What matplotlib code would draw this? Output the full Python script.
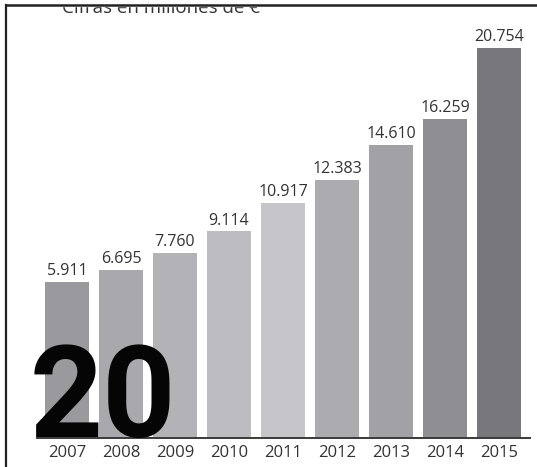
import matplotlib
matplotlib.use("Agg")
import matplotlib.pyplot as plt
from matplotlib.lines import Line2D
from matplotlib.patches import Rectangle

years = ["2007", "2008", "2009", "2010", "2011", "2012", "2013", "2014", "2015"]
values = [5911, 6695, 7760, 9114, 10917, 12383, 14610, 16259, 20754]
labels = ["5.911", "6.695", "7.760", "9.114", "10.917", "12.383", "14.610", "16.259", "20.754"]
colors = ["#9a9a9e", "#a9a9ad", "#b3b3b7", "#bdbdc1", "#c6c6ca",
          "#acacb0", "#a2a2a6", "#8f8f93", "#78787c"]

plt.rcParams['font.family'] = ['Open Sans', 'DejaVu Sans']

W, H = 537, 467
fig = plt.figure(figsize=(W / 100, H / 100), dpi=100)
ax = fig.add_axes([37 / W, 29 / H, 493 / W, 438 / H])

# the bars do not start at zero in the original graphic
ymin = -3982
x = list(range(len(years)))
heights = [v - ymin for v in values]
ax.bar(x, heights, bottom=ymin, width=0.8, color=colors, zorder=2)

for xi, v, lab in zip(x, values, labels):
    ax.annotate(lab, (xi, v), xytext=(0, 5), textcoords='offset points',
                ha='center', va='baseline', fontsize=11.5, color='#333333')

ax.set_xlim(-0.556, 8.574)
ax.set_ylim(ymin, 23792)
ax.set_xticks(x)
ax.set_xticklabels(years, fontsize=12, color='#333333')
ax.tick_params(axis='x', length=0, pad=5)
ax.set_yticks([])
for s in ['top', 'right', 'left']:
    ax.spines[s].set_visible(False)
ax.spines['bottom'].set_color('#3a3a3a')
ax.spines['bottom'].set_linewidth(1.4)
ax.spines['bottom'].set_zorder(3)

# clipped header
fig.text(62 / W, (H - 13) / H, "Cifras en millones de €", fontsize=13.5,
         color='#333333', va='baseline', ha='left')
fig.add_artist(Rectangle((0, (H - 6) / H), 1, 6 / H, transform=fig.transFigure,
                         color='white', zorder=10))

# frame lines
fig.add_artist(Line2D([6 / W, 6 / W], [0, (H - 4.5) / H], color='#222222', lw=1.6, zorder=11))
fig.add_artist(Line2D([6 / W, 1], [(H - 4.5) / H, (H - 4.5) / H], color='#222222', lw=1.8, zorder=11))

# big page number
fig.text(30 / W, 30 / H, "20", fontsize=92, fontweight='bold',
         family=['Roboto', 'DejaVu Sans'], color='#050505', va='baseline', ha='left',
         zorder=5)

fig.savefig("out.png", dpi=100)
